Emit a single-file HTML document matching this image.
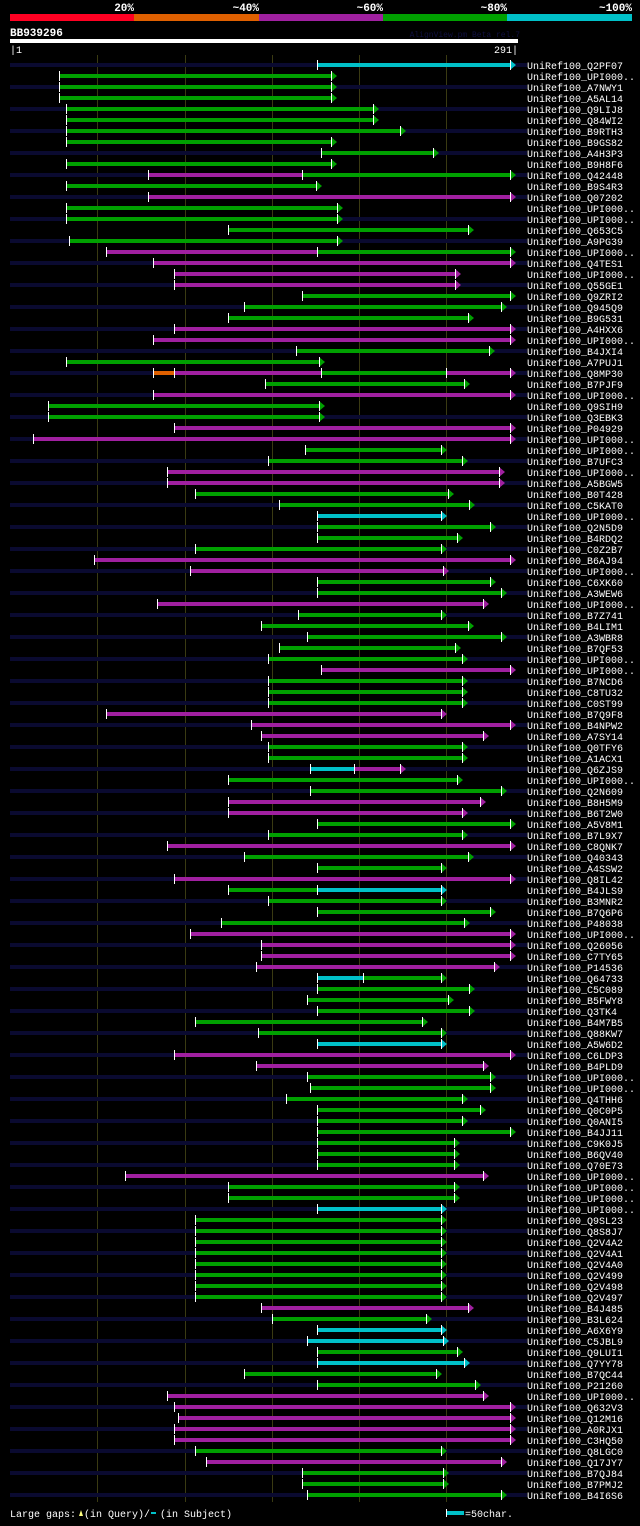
<!DOCTYPE html>
<html><head><meta charset="utf-8">
<style>
html,body{margin:0;padding:0;background:#000;}
body{width:640px;height:1521px;overflow:hidden;}
svg text{font-family:"Liberation Mono","DejaVu Sans Mono",monospace;}
</style></head>
<body>
<svg id="chart" width="640" height="1521" xmlns="http://www.w3.org/2000/svg">
<rect x="0" y="0" width="640" height="1521" fill="#000"/>
<g>
<rect x="10" y="14" width="124" height="7" fill="#ff0022"/>
<rect x="134" y="14" width="125" height="7" fill="#e06000"/>
<rect x="259" y="14" width="124" height="7" fill="#a020a0"/>
<rect x="383" y="14" width="124" height="7" fill="#00a000"/>
<rect x="507" y="14" width="125" height="7" fill="#00c0c8"/>
<text x="134" y="11" fill="#fff" font-size="11" font-weight="bold" text-anchor="end">20%</text>
<text x="259" y="11" fill="#fff" font-size="11" font-weight="bold" text-anchor="end">~40%</text>
<text x="383" y="11" fill="#fff" font-size="11" font-weight="bold" text-anchor="end">~60%</text>
<text x="507" y="11" fill="#fff" font-size="11" font-weight="bold" text-anchor="end">~80%</text>
<text x="632" y="11" fill="#fff" font-size="11" font-weight="bold" text-anchor="end">~100%</text>
</g>
<text x="10" y="36" fill="#fff" font-size="11" font-weight="bold">BB939296</text>
<text x="520" y="37" fill="#101040" font-size="8" text-anchor="end">AlignView.pm Beta rel.7</text>
<rect x="10" y="39" width="508" height="4" fill="#fff"/>
<text x="10" y="53" fill="#fff" font-size="10">|1</text>
<text x="518" y="53" fill="#fff" font-size="10" text-anchor="end">291|</text>
<g id="grid"></g>
<g id="rows"></g>
<g>
<text x="10" y="1517" fill="#fff" font-size="10">Large gaps:</text>
<polygon points="79,1516 81,1510 83,1516" fill="#ffff80"/>
<text x="84" y="1517" fill="#fff" font-size="10">(in Query)/</text>
<rect x="151" y="1512" width="5" height="2" fill="#00c0c8"/>
<text x="160" y="1517" fill="#fff" font-size="10">(in Subject)</text>
<rect x="446" y="1509" width="1" height="8" fill="#fff"/>
<rect x="447" y="1511" width="17" height="4" fill="#00c0c8"/>
<text x="465" y="1517" fill="#fff" font-size="10">=50char.</text>
</g>
</svg>
<script>
const queryLength = 291;
const gridTicks = [50, 100, 150, 200, 250];
const hitNames = ["Q2PF07","UPI000..","A7NWY1","A5AL14","Q9LIJ8","Q84WI2","B9RTH3","B9GS82","A4H3P3","B9H8F6","Q42448","B9S4R3","Q07202","UPI000..","UPI000..","Q653C5","A9PG39","UPI000..","Q4TES1","UPI000..","Q55GE1","Q9ZRI2","Q945Q9","B9G531","A4HXX6","UPI000..","B4JXI4","A7PUJ1","Q8MP30","B7PJF9","UPI000..","Q9SIH9","Q3EBK3","P04929","UPI000..","UPI000..","B7UFC3","UPI000..","A5BGW5","B0T428","C5KAT0","UPI000..","Q2N5D9","B4RDQ2","C0Z2B7","B6AJ94","UPI000..","C6XK60","A3WEW6","UPI000..","B7Z741","B4LIM1","A3WBR8","B7QF53","UPI000..","UPI000..","B7NCD6","C8TU32","C0ST99","B7Q9F8","B4NPW2","A7SY14","Q0TFY6","A1ACX1","Q6ZJS9","UPI000..","Q2N609","B8H5M9","B6T2W0","A5V8M1","B7L9X7","C8QNK7","Q40343","A4SSW2","Q8IL42","B4JLS9","B3MNR2","B7Q6P6","P48038","UPI000..","Q26056","C7TY65","P14536","Q64733","C5C089","B5FWY8","Q3TK4","B4M7B5","Q88KW7","A5W6D2","C6LDP3","B4PLD9","UPI000..","UPI000..","Q4THH6","Q0C0P5","Q0ANI5","B4JJ11","C9K0J5","B6QV40","Q70E73","UPI000..","UPI000..","UPI000..","UPI000..","Q9SL23","Q8S8J7","Q2V4A2","Q2V4A1","Q2V4A0","Q2V499","Q2V498","Q2V497","B4J485","B3L624","A6X6Y9","C5JBL9","Q9LUI1","Q7YY78","B7QC44","P21260","UPI000..","Q632V3","Q12M16","A0RJX1","C3HQ50","Q8LGC0","Q17JY7","B7QJ84","B7PMJ2","B4I6S6"];
// segments per hit: [queryStart, queryEnd, identityClass]
const hitSegments = [
[[176,289,"c"]],[[28,187,"g"]],[[28,187,"g"]],[[28,187,"g"]],[[32,211,"g"]],[[32,211,"g"]],[[32,226,"g"]],[[32,187,"g"]],[[178,245,"g"]],[[32,187,"g"]],
[[79,167,"p"],[167,289,"g"]],[[32,178,"g"]],[[79,289,"p"]],[[32,190,"g"]],[[32,190,"g"]],[[125,265,"g"]],[[34,190,"g"]],[[55,176,"p"],[176,289,"g"]],[[82,289,"p"]],[[94,258,"p"]],
[[94,258,"p"]],[[167,289,"g"]],[[134,284,"g"]],[[125,265,"g"]],[[94,289,"p"]],[[82,289,"p"]],[[164,277,"g"]],[[32,180,"g"]],[[82,94,"o"],[94,178,"p"],[178,250,"g"],[250,289,"p"]],[[146,263,"g"]],
[[82,289,"p"]],[[22,180,"g"]],[[22,180,"g"]],[[94,289,"p"]],[[13,289,"p"]],[[169,250,"g"]],[[148,262,"g"]],[[90,283,"p"]],[[90,283,"p"]],[[106,254,"g"]],
[[154,266,"g"]],[[176,250,"c"]],[[176,278,"g"]],[[176,259,"g"]],[[106,250,"g"]],[[48,289,"p"]],[[103,251,"p"]],[[176,278,"g"]],[[176,284,"g"]],[[84,274,"p"]],
[[165,250,"g"]],[[144,265,"g"]],[[170,284,"g"]],[[154,258,"g"]],[[148,262,"g"]],[[178,289,"p"]],[[148,262,"g"]],[[148,262,"g"]],[[148,262,"g"]],[[55,250,"p"]],
[[138,289,"p"]],[[144,274,"p"]],[[148,262,"g"]],[[148,262,"g"]],[[172,197,"c"],[197,226,"p"]],[[125,259,"g"]],[[172,284,"g"]],[[125,272,"p"]],[[125,262,"p"]],[[176,289,"g"]],
[[148,262,"g"]],[[90,289,"p"]],[[134,265,"g"]],[[176,250,"g"]],[[94,289,"p"]],[[125,176,"g"],[176,250,"c"]],[[148,250,"g"]],[[176,278,"g"]],[[121,263,"g"]],[[103,289,"p"]],
[[144,289,"p"]],[[144,289,"p"]],[[141,280,"p"]],[[176,202,"c"],[202,250,"g"]],[[176,266,"g"]],[[170,254,"g"]],[[176,266,"g"]],[[106,239,"g"]],[[142,250,"g"]],[[176,250,"c"]],
[[94,289,"p"]],[[141,274,"p"]],[[170,278,"g"]],[[172,278,"g"]],[[158,262,"g"]],[[176,272,"g"]],[[176,262,"g"]],[[176,289,"g"]],[[176,257,"g"]],[[176,257,"g"]],
[[176,257,"g"]],[[66,274,"p"]],[[125,257,"g"]],[[125,257,"g"]],[[176,250,"c"]],[[106,250,"g"]],[[106,250,"g"]],[[106,250,"g"]],[[106,250,"g"]],[[106,250,"g"]],
[[106,250,"g"]],[[106,250,"g"]],[[106,250,"g"]],[[144,265,"p"]],[[150,241,"g"]],[[176,250,"c"]],[[170,251,"c"]],[[176,259,"g"]],[[176,263,"c"]],[[134,247,"g"]],
[[176,269,"g"]],[[90,274,"p"]],[[94,289,"p"]],[[96,289,"p"]],[[94,289,"p"]],[[94,289,"p"]],[[106,250,"g"]],[[112,284,"p"]],[[167,251,"g"]],[[167,251,"g"]],
[[170,284,"g"]]
];
const palette = {g:"#00a000", p:"#a020a0", c:"#00c0c8", o:"#e06000", r:"#ff0022"};
const NS = "http://www.w3.org/2000/svg";
const X0 = 10, X1 = 518, Y0 = 65, PITCH = 11;
function xScale(pos){ return X0 + pos / queryLength * (X1 - X0); }
function yScale(i){ return Y0 + i * PITCH; }
function mk(tag, attrs, parent){ const e = document.createElementNS(NS, tag); for (const k in attrs) e.setAttribute(k, attrs[k]); parent.appendChild(e); return e; }
const grid = document.getElementById('grid');
const rowsG = document.getElementById('rows');
gridTicks.forEach(t => {
  const l = mk('rect', {x: Math.round(xScale(t)), y: 55, width: 1, height: 1447, fill: '#3a3a12'}, grid);
  
  
});
hitNames.forEach((nm, i) => {
  const y = yScale(i);
  const g = mk('g', {}, rowsG);
  
  
  if (i % 2 === 0) {
    const bg = mk('rect', {x: X0, y: y - 2, width: 517, height: 4, fill: '#0a0a30'}, g);
    
    
  }
  const segs = hitSegments[i];
  segs.forEach((s, j) => {
    const xa = Math.round(xScale(s[0])), xb = Math.round(xScale(s[1]));
    const col = palette[s[2]];
    const last = j === segs.length - 1;
    const r = mk('rect', {x: xa, y: y - 2, width: Math.max(0, xb - xa - (last ? 5 : 0)), height: 4, fill: col}, g);
    
    
    const tk = mk('rect', {x: xa, y: y - 5, width: 1, height: 10, fill: '#fff'}, g);
    
    
    if (last) {
      const a = mk('polygon', {points: (xb - 5) + ',' + (y - 5) + ' ' + (xb + 1) + ',' + y + ' ' + (xb - 5) + ',' + (y + 5), fill: col}, g);
      
      
      const al = mk('rect', {x: xb - 5, y: y - 5, width: 1, height: 10, fill: '#fff'}, g);
      
      
    }
  });
  const t = mk('text', {x: 527, y: y + 4, fill: '#fff', 'font-size': 10}, g);
  
  
  t.textContent = 'UniRef100_' + nm;
});
</script>
</body></html>
